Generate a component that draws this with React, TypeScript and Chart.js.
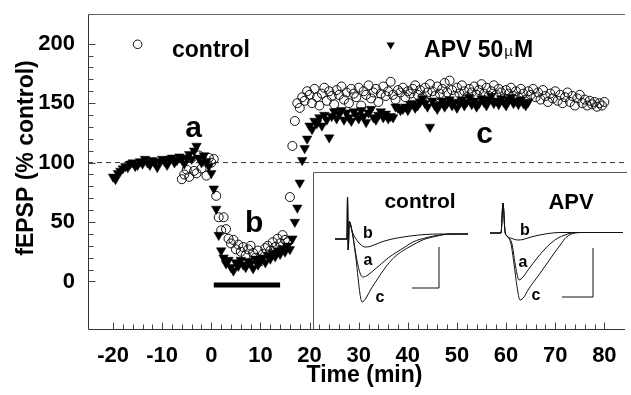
import React, { useEffect, useRef } from 'react';
import { Chart, registerables } from 'chart.js';

Chart.register(...registerables);

const FONT = '"Liberation Sans", Arial, Helvetica, sans-serif';

// ---------- main chart data (time in min, fEPSP in % control) ----------
const apvTime = [
  -20, -19.5, -19, -18.5, -18, -17.5, -17, -16.5, -16, -15.5,
  -15, -14.5, -14, -13.5, -13, -12.5, -12, -11.5, -11, -10.5,
  -10, -9.5, -9, -8.5, -8, -7.5, -7, -6.5, -6, -5.5,
  -5, -4.5, -4, -3.5, -3, -2.5, -2, -1.5, -1, -0.5,
  0, 0.5, 1, 1.5, 2, 2.5, 3, 3.5, 4, 4.5,
  5, 5.5, 6, 6.5, 7, 7.5, 8, 8.5, 9, 9.5,
  10, 10.5, 11, 11.5, 12, 12.5, 13, 13.5, 14, 14.5,
  15, 15.5, 16, 16.5, 17, 17.5, 18, 18.5, 19, 19.5,
  20, 20.5, 21, 21.5, 22, 22.5, 23, 23.5, 24, 24.5,
  25, 25.5, 26, 26.5, 27, 27.5, 28, 28.5, 29, 29.5,
  30, 30.5, 31, 31.5, 32, 32.5, 33, 33.5, 34, 34.5,
  35, 35.5, 36, 36.5, 37, 37.5, 38, 38.5, 39, 39.5,
  40, 40.5, 41, 41.5, 42, 42.5, 43, 43.5, 44, 44.5,
  45, 45.5, 46, 46.5, 47, 47.5, 48, 48.5, 49, 49.5,
  50, 50.5, 51, 51.5, 52, 52.5, 53, 53.5, 54, 54.5,
  55, 55.5, 56, 56.5, 57, 57.5, 58, 58.5, 59, 59.5,
  60, 60.5, 61, 61.5, 62, 62.5, 63, 63.5, 64, 64.5,
];
const apvValue = [
  88, 86, 91, 93, 95, 97, 96, 99, 100, 97,
  98, 101, 99, 103, 100, 98, 102, 100, 96, 101,
  103, 101, 98, 103, 104, 100, 102, 105, 103, 99,
  104, 107, 103, 110, 114, 104, 100, 106, 101, 97,
  91, 78, 61, 39, 26, 20, 15, 18, 12, 9,
  16, 13, 18, 14, 12, 17, 15, 11, 19, 14,
  17, 20, 16, 22, 19, 24, 21, 26, 23, 28,
  25, 30, 27, 36, 50, 62, 83, 102, 112, 120,
  131, 128, 135, 133, 138, 131, 140, 136, 121, 139,
  143, 137, 141, 144, 136, 142, 138, 135, 143, 140,
  137, 144, 139, 134, 142, 145, 138, 136, 140, 143,
  138, 141, 137, 139, 138, 147, 146, 144, 145, 147,
  144, 149, 150, 146, 148, 151, 154, 150, 147, 130,
  152, 148, 145, 149, 152, 147, 150, 153, 148, 151,
  146, 150, 153, 148, 151, 155, 149, 152, 147, 150,
  154, 151, 148, 153, 156, 150, 152, 149, 154, 151,
  148, 153, 155, 150, 152, 149, 153, 150, 148, 151,
];

const controlTime = [
  -6, -5.5, -5, -4.5, -4, -3.5, -3, -2.5, -2, -1.5,
  -1, -0.5, 0, 0.5, 1, 1.5, 2, 2.5, 3, 3.5,
  4, 4.5, 5, 5.5, 6, 6.5, 7, 7.5, 8, 8.5,
  9, 9.5, 10, 10.5, 11, 11.5, 12, 12.5, 13, 13.5,
  14, 14.5, 15, 15.5, 16, 16.5, 17, 17.5, 18, 18.5,
  19, 19.5, 20, 20.5, 21, 21.5, 22, 22.5, 23, 23.5,
  24, 24.5, 25, 25.5, 26, 26.5, 27, 27.5, 28, 28.5,
  29, 29.5, 30, 30.5, 31, 31.5, 32, 32.5, 33, 33.5,
  34, 34.5, 35, 35.5, 36, 36.5, 37, 37.5, 38, 38.5,
  39, 39.5, 40, 40.5, 41, 41.5, 42, 42.5, 43, 43.5,
  44, 44.5, 45, 45.5, 46, 46.5, 47, 47.5, 48, 48.5,
  49, 49.5, 50, 50.5, 51, 51.5, 52, 52.5, 53, 53.5,
  54, 54.5, 55, 55.5, 56, 56.5, 57, 57.5, 58, 58.5,
  59, 59.5, 60, 60.5, 61, 61.5, 62, 62.5, 63, 63.5,
  64, 64.5, 65, 65.5, 66, 66.5, 67, 67.5, 68, 68.5,
  69, 69.5, 70, 70.5, 71, 71.5, 72, 72.5, 73, 73.5,
  74, 74.5, 75, 75.5, 76, 76.5, 77, 77.5, 78, 78.5,
  79, 79.5, 80,
];
const controlValue = [
  86, 90, 94, 88, 104, 93, 91, 106, 95, 101,
  89, 104, 100, 103, 72, 54, 43, 54, 44, 36,
  32, 35, 27, 31, 25, 29, 22, 27, 30, 24,
  20, 26, 17, 23, 28, 30, 26, 33, 29, 36,
  32, 39, 35, 33, 71, 114, 135, 150, 146, 155,
  152, 160, 157, 150, 162, 155, 148, 158, 163, 152,
  160, 156, 149, 161, 157, 164, 153, 159, 150, 162,
  158, 155, 163, 148, 160, 157, 165, 154, 159, 162,
  151, 158, 164, 156, 160, 168, 157, 153, 161, 159,
  163, 155, 160, 158, 162, 165, 157, 161, 155, 163,
  159, 166, 160, 156, 164, 158, 162, 167, 159, 169,
  161, 156, 163, 158, 165, 160, 155, 162, 159, 164,
  157, 161, 166, 158, 163, 156, 160, 165, 157, 162,
  159, 154, 161, 158, 163, 156, 160, 155, 162, 158,
  153, 160, 157, 162, 155, 159, 153, 161, 156, 151,
  158, 154, 160, 152, 157, 150, 155, 159, 151, 156,
  148, 154, 157, 150, 153, 148, 152, 149, 151, 147,
  150, 148, 151,
];

const referenceLevel = 100; // dashed 100 % line
const drugBarTime = [0.5, 14];
const drugBarLevel = -3;

const xTickLabels = [-20, -10, 0, 10, 20, 30, 40, 50, 60, 70, 80];
const yTickLabels = [0, 50, 100, 150, 200];

// ---------- inset traces (time in ms, amplitude in mV) ----------
const ctrlATime = [3, 5.4, 5.5, 5.65, 5.85, 6.4, 7.2, 8.0, 8.6, 9.6, 10.8, 12, 13.6, 15.4, 17, 18.6, 21.4, 24, 27, 29.6];
const ctrlAValue = [-0.1, -0.1, 0.74, -0.32, 0.25, 0.06, -0.42, -0.78, -0.86, -0.82, -0.72, -0.62, -0.48, -0.36, -0.26, -0.16, -0.07, -0.02, 0, 0];
const ctrlBTime = [3, 5.4, 5.5, 5.65, 5.85, 6.4, 7.2, 8, 9, 10, 12, 14, 16, 18, 21, 24, 29.6];
const ctrlBValue = [-0.1, -0.1, 0.74, -0.32, 0.25, 0.06, -0.1, -0.2, -0.26, -0.25, -0.17, -0.11, -0.07, -0.04, -0.01, 0, 0];
const ctrlCTime = [3, 5.4, 5.5, 5.65, 5.85, 6.4, 7.2, 8, 8.4, 9.2, 10.2, 11.5, 13, 14.8, 16.5, 18.2, 20.5, 23, 26, 29.6];
const ctrlCValue = [-0.1, -0.1, 0.74, -0.32, 0.25, 0.06, -0.5, -1.2, -1.36, -1.28, -1.1, -0.9, -0.68, -0.47, -0.34, -0.24, -0.12, -0.05, 0, 0];
const ctrlBarTime = [18.4, 23.8, 23.8];
const ctrlBarValue = [-1.08, -1.08, -0.26];

const apvATime = [2.4, 4.6, 5.0, 5.4, 5.8, 6.8, 7.4, 8.2, 9, 10, 12, 13.2, 14.6, 16, 17.4, 19.4, 29];
const apvAValue = [0.02, 0.02, 0.62, 0.05, -0.04, -0.2, -0.58, -0.92, -0.86, -0.72, -0.46, -0.32, -0.18, -0.08, -0.02, 0.03, 0.03];
const apvBTime = [2.4, 4.6, 5.0, 5.4, 5.8, 6.8, 8, 9, 10.6, 13.4, 16.6, 19, 29];
const apvBValue = [0.02, 0.02, 0.62, 0.05, -0.04, -0.09, -0.12, -0.11, -0.06, 0, 0.03, 0.03, 0.03];
const apvCTime = [2.4, 4.6, 5.0, 5.4, 5.8, 6.6, 7.2, 7.8, 8.4, 9.2, 10, 11.2, 12.6, 14, 15.4, 16.6, 17.6, 19.4, 21, 29];
const apvCValue = [0.02, 0.02, 0.62, 0.05, -0.04, -0.2, -0.6, -1.05, -1.32, -1.26, -1.12, -0.95, -0.76, -0.56, -0.36, -0.2, -0.07, 0.02, 0.03, 0.03];
const apvBarTime = [16.8, 23, 23];
const apvBarValue = [-1.26, -1.26, -0.28];

const pts = (xs: number[], ys: number[]) => xs.map((x, i) => ({ x, y: ys[i] }));

function drawTriangleDown(ctx: CanvasRenderingContext2D, x: number, y: number, r: number) {
  ctx.beginPath();
  ctx.moveTo(x, y + r);
  ctx.lineTo(x - r * 0.866, y - r * 0.5);
  ctx.lineTo(x + r * 0.866, y - r * 0.5);
  ctx.closePath();
  ctx.fill();
}

const mainPlugin = {
  id: 'mainDecor',
  beforeDatasetsDraw(chart: any) {
    const { ctx, chartArea: a, scales } = chart;
    const xs = scales.x, ys = scales.y;
    // inset box
    const bx = Math.round(xs.getPixelForValue(20.6)) + 0.5;
    const by = Math.round(ys.getPixelForValue(92)) + 0.5;
    ctx.save();
    ctx.fillStyle = '#fff';
    ctx.fillRect(bx, by, a.right - bx + 2, a.bottom - by);
    ctx.strokeStyle = '#555';
    ctx.lineWidth = 1;
    ctx.beginPath();
    ctx.moveTo(a.right + 2, by);
    ctx.lineTo(bx, by);
    ctx.lineTo(bx, a.bottom);
    ctx.stroke();
    ctx.restore();
  },
  afterDatasetsDraw(chart: any) {
    const { ctx, chartArea: a, scales } = chart;
    const xs = scales.x, ys = scales.y;
    const L = Math.round(a.left) + 0.5;
    const B = Math.round(a.bottom) + 0.5;
    const T = Math.round(a.top) + 0.5;
    ctx.save();
    ctx.lineWidth = 1;
    ctx.strokeStyle = '#666';
    ctx.beginPath();
    ctx.moveTo(L, T);
    ctx.lineTo(a.right, T);
    ctx.stroke();
    ctx.strokeStyle = '#333';
    ctx.beginPath();
    ctx.moveTo(L, T);
    ctx.lineTo(L, B);
    ctx.lineTo(a.right, B);
    ctx.stroke();
    // ticks (inward)
    ctx.strokeStyle = '#444';
    ctx.beginPath();
    for (let v = -20; v <= 80; v += 2) {
      const px = Math.round(xs.getPixelForValue(v)) + 0.5;
      const len = v % 10 === 0 ? 7 : 5;
      ctx.moveTo(px, B);
      ctx.lineTo(px, B - len);
    }
    for (let v = 0; v <= 200; v += 10) {
      const py = Math.round(ys.getPixelForValue(v)) + 0.5;
      const len = v % 50 === 0 ? 7 : 5;
      ctx.moveTo(L, py);
      ctx.lineTo(L + len, py);
    }
    ctx.stroke();

    // annotation letters
    ctx.fillStyle = '#000';
    ctx.textAlign = 'center';
    ctx.textBaseline = 'alphabetic';
    ctx.font = `bold 30px ${FONT}`;
    ctx.fillText('a', xs.getPixelForValue(-3.6), ys.getPixelForValue(121.3));
    ctx.fillText('b', xs.getPixelForValue(8.7), ys.getPixelForValue(41.3));
    ctx.fillText('c', xs.getPixelForValue(55.6), ys.getPixelForValue(116.2));

    // legend
    const cy = ys.getPixelForValue(199.5);
    ctx.strokeStyle = '#111';
    ctx.lineWidth = 1;
    ctx.beginPath();
    ctx.arc(xs.getPixelForValue(-15), cy, 4.3, 0, Math.PI * 2);
    ctx.stroke();
    drawTriangleDown(ctx, xs.getPixelForValue(36.5), cy + 0.5, 4.8);
    ctx.textAlign = 'left';
    const base = ys.getPixelForValue(188.5);
    ctx.font = `bold 23px ${FONT}`;
    ctx.fillText('control', xs.getPixelForValue(-8), base);
    let lx = xs.getPixelForValue(43.3);
    ctx.fillText('APV 50', lx, base);
    lx += ctx.measureText('APV 50').width + 1;
    ctx.font = `15px ${FONT}`;
    ctx.fillText('\u00b5', lx, base - 1);
    lx += ctx.measureText('\u00b5').width + 1;
    ctx.font = `bold 23px ${FONT}`;
    ctx.fillText('M', lx, base);

    // axis titles
    ctx.font = `bold 23px ${FONT}`;
    ctx.textAlign = 'center';
    ctx.fillText('Time (min)', (a.left + a.right) / 2 + 8, 382);
    ctx.translate(33, 158);
    ctx.rotate(-Math.PI / 2);
    ctx.fillText('fEPSP (% control)', 0, 0);
    ctx.restore();
  },
};

function MainChart() {
  const ref = useRef<HTMLCanvasElement>(null);
  useEffect(() => {
    if (!ref.current) return;
    const tickFont = { family: FONT, size: 22, weight: 'bold' as const };
    const chart = new Chart(ref.current, {
      type: 'scatter',
      data: {
        datasets: [
          {
            label: 'APV 50\u00b5M',
            data: pts(apvTime, apvValue),
            pointStyle: 'triangle',
            rotation: 180,
            pointRadius: 5.5,
            backgroundColor: '#000',
            borderColor: '#000',
            borderWidth: 0.5,
          },
          {
            label: 'control',
            data: pts(controlTime, controlValue),
            pointStyle: 'circle',
            pointRadius: 4.5,
            backgroundColor: 'rgba(0,0,0,0)',
            borderColor: '#111',
            borderWidth: 1,
          },
          {
            label: 'ref',
            data: [{ x: -25.1, y: referenceLevel }, { x: 84.2, y: referenceLevel }],
            showLine: true,
            pointRadius: 0,
            borderColor: '#333',
            borderWidth: 1,
            borderDash: [5, 4],
          },
          {
            label: 'drug',
            data: pts(drugBarTime, [drugBarLevel, drugBarLevel]),
            showLine: true,
            pointRadius: 0,
            borderColor: '#000',
            borderWidth: 5,
            borderCapStyle: 'butt',
          },
        ] as any,
      },
      options: {
        responsive: false,
        animation: false,
        devicePixelRatio: 1,
        layout: { padding: { top: 14, left: 0, right: 0, bottom: 0 } },
        plugins: { legend: { display: false }, tooltip: { enabled: false } },
        scales: {
          x: {
            type: 'linear',
            min: -25.1,
            max: 84.2,
            grid: { display: false, drawTicks: false },
            border: { display: false },
            ticks: {
              stepSize: 10,
              includeBounds: false,
              autoSkip: false,
              maxRotation: 0,
              padding: 14,
              color: '#000',
              font: tickFont,
              callback: (v: any) => (xTickLabels.includes(Number(v)) ? String(v) : ''),
            },
            afterFit: (s: any) => {
              s.height = 66;
              s.paddingLeft = 0;
              s.paddingRight = 0;
            },
          },
          y: {
            type: 'linear',
            min: -40,
            max: 225,
            grid: { display: false, drawTicks: false },
            border: { display: false },
            ticks: {
              stepSize: 10,
              includeBounds: false,
              autoSkip: false,
              padding: 13,
              color: '#000',
              font: tickFont,
              callback: (v: any) => (yTickLabels.includes(Number(v)) ? String(v) : ''),
            },
            afterFit: (s: any) => {
              s.width = 88;
              s.paddingTop = 0;
              s.paddingBottom = 0;
            },
          },
        },
      } as any,
      plugins: [mainPlugin],
    });
    return () => chart.destroy();
  }, []);
  return <canvas ref={ref} width={631} height={395} style={{ position: 'absolute', left: 0, top: 0 }} />;
}

type Label = { text: string; x: number; y: number; size: number };

function InsetPanel(props: {
  left: number;
  top: number;
  traces: { t: number[]; v: number[] }[];
  bar: { t: number[]; v: number[] };
  labels: Label[];
}) {
  const ref = useRef<HTMLCanvasElement>(null);
  useEffect(() => {
    if (!ref.current) return;
    const labelPlugin = {
      id: 'insetLabels',
      afterDatasetsDraw(chart: any) {
        const { ctx, scales } = chart;
        ctx.save();
        ctx.fillStyle = '#000';
        ctx.textAlign = 'center';
        ctx.textBaseline = 'alphabetic';
        for (const l of props.labels) {
          ctx.font = `bold ${l.size}px ${FONT}`;
          ctx.fillText(l.text, scales.x.getPixelForValue(l.x), scales.y.getPixelForValue(l.y));
        }
        ctx.restore();
      },
    };
    const chart = new Chart(ref.current, {
      type: 'line',
      data: {
        datasets: [
          ...props.traces.map((tr) => ({
            data: pts(tr.t, tr.v),
            borderColor: '#111',
            borderWidth: 1,
            pointRadius: 0,
            fill: false,
            cubicInterpolationMode: 'monotone',
          })),
          {
            data: pts(props.bar.t, props.bar.v),
            borderColor: '#111',
            borderWidth: 1,
            pointRadius: 0,
            fill: false,
            tension: 0,
          },
        ] as any,
      },
      options: {
        responsive: false,
        animation: false,
        devicePixelRatio: 1,
        layout: { padding: 0 },
        plugins: { legend: { display: false }, tooltip: { enabled: false } },
        scales: {
          x: { type: 'linear', display: false, min: 0, max: 30 },
          y: { type: 'linear', display: false, min: -1.8, max: 1.2 },
        },
      } as any,
      plugins: [labelPlugin],
    });
    return () => chart.destroy();
  }, []);
  return (
    <canvas
      ref={ref}
      width={150}
      height={150}
      style={{ position: 'absolute', left: props.left, top: props.top }}
    />
  );
}

export default function App() {
  return (
    <div style={{ position: 'fixed', left: 0, top: 0, width: 631, height: 395, background: '#fff', overflow: 'hidden' }}>
      <MainChart />
      <InsetPanel
        left={320}
        top={174}
        traces={[
          { t: ctrlATime, v: ctrlAValue },
          { t: ctrlBTime, v: ctrlBValue },
          { t: ctrlCTime, v: ctrlCValue },
        ]}
        bar={{ t: ctrlBarTime, v: ctrlBarValue }}
        labels={[
          { text: 'control', x: 20, y: 0.52, size: 21 },
          { text: 'b', x: 9.6, y: -0.08, size: 16 },
          { text: 'a', x: 9.6, y: -0.62, size: 16 },
          { text: 'c', x: 12, y: -1.36, size: 16 },
        ]}
      />
      <InsetPanel
        left={478}
        top={174}
        traces={[
          { t: apvATime, v: apvAValue },
          { t: apvBTime, v: apvBValue },
          { t: apvCTime, v: apvCValue },
        ]}
        bar={{ t: apvBarTime, v: apvBarValue }}
        labels={[
          { text: 'APV', x: 18.6, y: 0.5, size: 22 },
          { text: 'b', x: 9.4, y: -0.02, size: 16 },
          { text: 'a', x: 9, y: -0.66, size: 16 },
          { text: 'c', x: 11.6, y: -1.32, size: 16 },
        ]}
      />
    </div>
  );
}
